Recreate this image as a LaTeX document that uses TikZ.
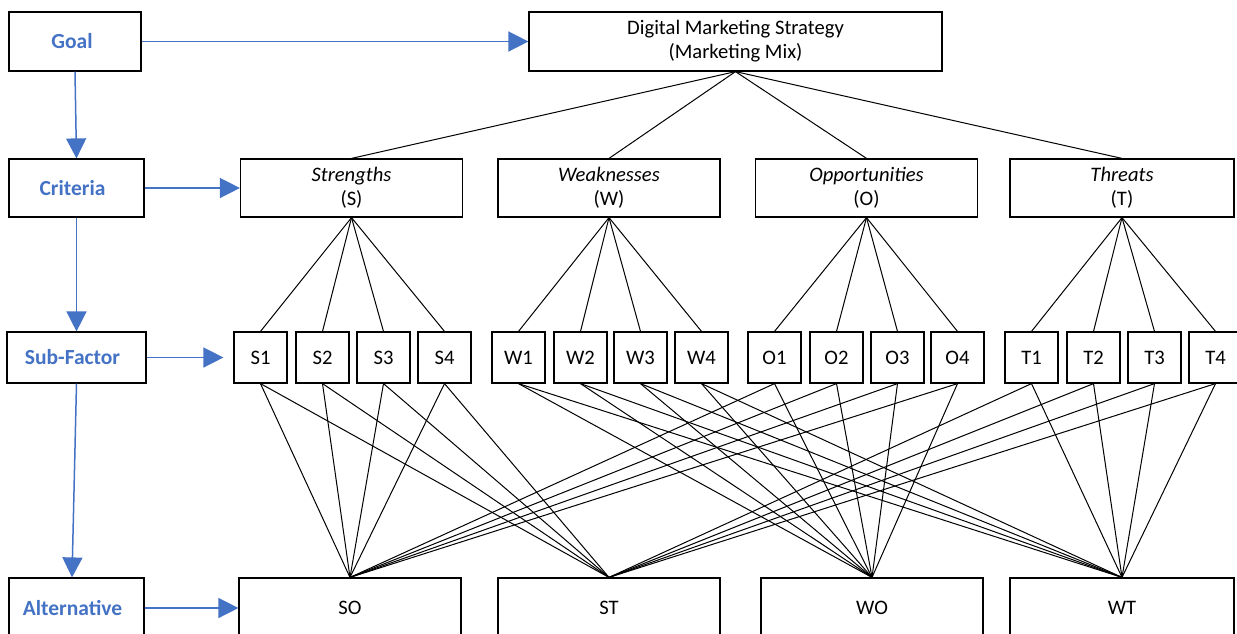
\documentclass[tikz,border=0pt]{standalone}
\usepackage{fontspec}
\setmainfont{Carlito}
\usetikzlibrary{arrows.meta}
\definecolor{lblue}{RGB}{68,114,196}
\begin{document}
\begin{tikzpicture}[x=1pt,y=-1pt,
  box/.style={draw=black, line width=1.2pt, inner sep=0pt, align=center, font=\fontsize{20.6}{24}\selectfont},
  lbl/.style={box, text=lblue, font=\fontsize{21.5}{24}\selectfont\bfseries},
  crit/.style={box, minimum width=222pt, minimum height=58pt},
  sub/.style={box, minimum width=53pt, minimum height=51pt},
  alt/.style={box, minimum width=222pt, minimum height=60pt},
  flow/.style={draw=lblue, line width=1.5pt, -{Triangle[length=20pt,width=20pt]}},
  link/.style={draw=black, line width=1pt}]
\useasboundingbox (0,0) rectangle (1237,633);
\clip (0,0) rectangle (1237,633);
\fill[white] (0,0) rectangle (1237,633);

% left column
\node[lbl, minimum width=132pt, minimum height=59pt] (goal) at (75,41.5) {\hspace*{-6pt}Goal};
\node[lbl, minimum width=135pt, minimum height=58pt] (critlbl) at (76.5,188) {\hspace*{-8pt}Criteria};
\node[lbl, minimum width=139pt, minimum height=51pt] (sublbl) at (76.5,357.5) {\hspace*{-8pt}Sub-Factor};
\node[lbl, minimum width=135pt, minimum height=60pt] (altlbl) at (76.5,608) {\hspace*{-8pt}Alternative};

% goal
\node[box, minimum width=413pt, minimum height=59pt] (top) at (735.5,41.5) {Digital Marketing Strategy\\(Marketing Mix)};

% criteria
\node[crit] (cS) at (351.5,188) {\textit{Strengths}\\(S)};
\node[crit] (cW) at (609,188) {\textit{Weaknesses}\\(W)};
\node[crit] (cO) at (866.5,188) {\textit{Opportunities}\\(O)};
\node[crit, minimum width=224pt] (cT) at (1122,188) {\textit{Threats}\\(T)};

% sub-factors
\foreach \n/\cx in {S1/260.5, S2/322.5, S3/383.5, S4/444.5, W1/518.5, W2/580.5, W3/640.5, W4/701.5, O1/774.5, O2/836.5, O3/897.5, O4/957.5, T1/1031.5, T2/1093.5, T3/1154.5, T4/1215.5}
  \node[sub] (\n) at (\cx,357.5) {\n};

% alternatives
\node[alt] (SO) at (350,608) {SO};
\node[alt] (ST) at (609,608) {ST};
\node[alt] (WO) at (872,608) {WO};
\node[alt, minimum width=224pt] (WT) at (1122,608) {WT};

% hierarchy links
\foreach \c in {S,W,O,T}
  \draw[link] (top.south) -- (c\c.north);
\foreach \c in {S,W,O,T}
  \foreach \i in {1,...,4}
    \draw[link] (c\c.south) -- (\c\i.north);
\foreach \a/\b in {SO/S, SO/O, ST/S, ST/T, WO/W, WO/O, WT/W, WT/T}
  \foreach \i in {1,...,4}
    \draw[link] (\b\i.south) -- (\a.north);

% flow arrows
\draw[flow] (goal.east) -- (top.west);
\draw[flow] (goal.south) -- (critlbl.north);
\draw[flow] (critlbl.east) -- (cS.west);
\draw[flow] (critlbl.south) -- (sublbl.north);
\draw[flow] (sublbl.east) -- ([xshift=-10pt]S1.west);
\draw[flow] (sublbl.south) -- ([xshift=-4.5pt]altlbl.north);
\draw[flow] (altlbl.east) -- (SO.west);
\end{tikzpicture}
\end{document}
